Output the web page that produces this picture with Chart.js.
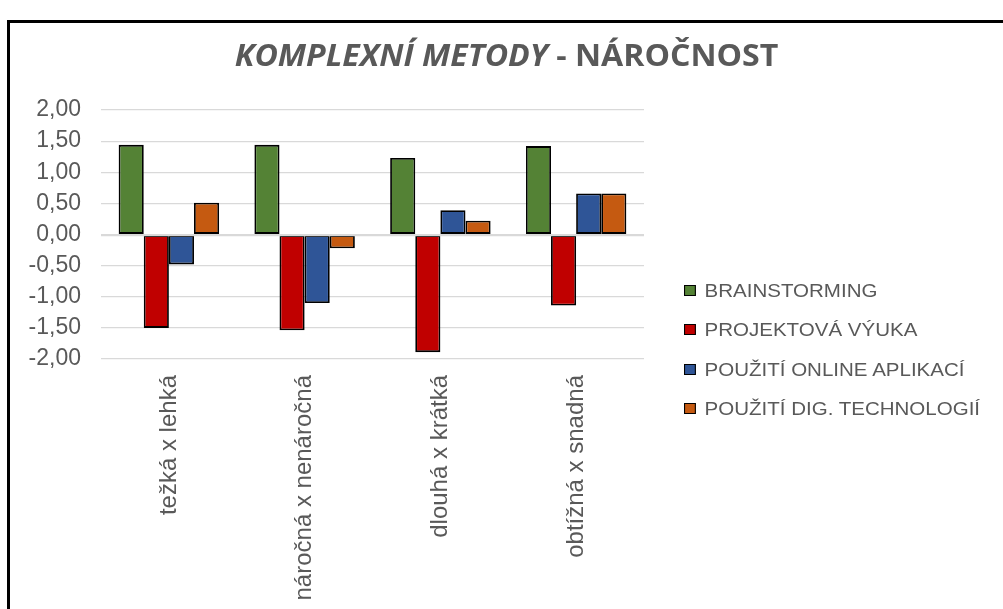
<!DOCTYPE html>
<html>
<head>
<meta charset="utf-8">
<script src="https://cdn.jsdelivr.net/npm/chart.js@4.4.1/dist/chart.umd.min.js"></script>
<style>
  html, body { margin: 0; padding: 0; background: #ffffff; }
  body { width: 1003px; height: 609px; position: relative; overflow: hidden; }
  #frame { position: absolute; left: 7px; top: 20px; width: 1100px; height: 700px; border: 3px solid #000; box-sizing: border-box; pointer-events: none; }
  #wrap { position: absolute; left: 0; top: 0; width: 1003px; height: 609px; }
  #title { position: absolute; left: 0; width: 1013px; top: 40px; text-align: center; font-family: 'Open Sans', sans-serif; font-weight: 700; font-size: 30px; line-height: 30px; color: #595959; white-space: nowrap; transform: scaleX(1.07); transform-origin: 506px 0; }
  #title i { font-style: italic; }
  #legend { position: absolute; left: 684px; top: 281px; font-family: 'Liberation Sans', Arial, sans-serif; font-size: 19px; color: #595959; transform: scaleX(1.08); transform-origin: 0 0; }
  .row { display: flex; align-items: center; height: 19px; line-height: 19px; margin-bottom: 20.3px; white-space: nowrap; }
  .sw { width: 11px; height: 11px; border: 1.5px solid #000; box-sizing: border-box; margin-right: 8px; flex: none; }
</style>
</head>
<body>
<div id="wrap"><canvas id="c"></canvas></div>
<div id="title"><i>KOMPLEXNÍ METODY</i> - NÁROČNOST</div>
<div id="legend"></div>
<div id="frame"></div>
<script>
const categories = ['težká x lehká', 'náročná x nenáročná', 'dlouhá x krátká', 'obtížná x snadná'];
const seriesNames = ['BRAINSTORMING', 'PROJEKTOVÁ VÝUKA', 'POUŽITÍ ONLINE APLIKACÍ', 'POUŽITÍ DIG. TECHNOLOGIÍ'];
const brainstorming = [1.44, 1.44, 1.23, 1.42];
const projektovaVyuka = [-1.50, -1.54, -1.89, -1.14];
const onlineAplikace = [-0.48, -1.10, 0.39, 0.66];
const digTechnologie = [0.51, -0.22, 0.22, 0.66];
const seriesColors = ['#548235', '#c00000', '#2f5597', '#c55a11'];
const yMin = -2, yMax = 2, yStep = 0.5;
const yTickLabels = ['-2,00', '-1,50', '-1,00', '-0,50', '0,00', '0,50', '1,00', '1,50', '2,00'];

const seriesData = [brainstorming, projektovaVyuka, onlineAplikace, digTechnologie];

Chart.defaults.font.family = "'Liberation Sans', Arial, sans-serif";
Chart.defaults.color = '#595959';

const zeroLine = {
  id: 'zeroLine',
  afterDatasetsDraw(chart) {
    const { ctx, chartArea, scales } = chart;
    const y = Math.round(scales.y.getPixelForValue(0)) + 0.5;
    ctx.save();
    ctx.strokeStyle = '#d9d9d9';
    ctx.lineWidth = 1.5;
    ctx.beginPath();
    ctx.moveTo(chartArea.left, y);
    ctx.lineTo(chartArea.right, y);
    ctx.stroke();
    ctx.restore();
  }
};

new Chart(document.getElementById('c'), {
  type: 'bar',
  data: {
    labels: categories,
    datasets: seriesNames.map((name, i) => ({
      label: name,
      data: seriesData[i],
      backgroundColor: seriesColors[i],
      borderColor: '#000000',
      borderWidth: 1.8,
      borderSkipped: false,
      categoryPercentage: 0.74,
      barPercentage: 1.0
    }))
  },
  options: {
    responsive: true,
    maintainAspectRatio: false,
    animation: false,
    layout: { padding: { left: 0, top: 110, right: 359, bottom: 0 } },
    plugins: {
      legend: { display: false },
      title: { display: false },
      tooltip: { enabled: false }
    },
    scales: {
      x: {
        grid: { display: false, drawTicks: false },
        border: { display: false },
        ticks: {
          minRotation: 90, maxRotation: 90, autoSkip: false,
          padding: 16,
          font: { size: 24 }, color: '#595959'
        },
        afterFit(scale) { scale.height = 250; }
      },
      y: {
        min: yMin, max: yMax,
        grid: { color: '#d9d9d9', lineWidth: 1.2, drawTicks: false },
        border: { display: false },
        ticks: {
          stepSize: yStep,
          padding: 20,
          font: { size: 23 }, color: '#595959',
          callback: (v) => yTickLabels[Math.round((v - yMin) / yStep)]
        },
        afterFit(scale) { scale.width = 101; }
      }
    }
  },
  plugins: [zeroLine]
});

const legendEl = document.getElementById('legend');
seriesNames.forEach((name, i) => {
  const row = document.createElement('div');
  row.className = 'row';
  const sw = document.createElement('span');
  sw.className = 'sw';
  sw.style.background = seriesColors[i];
  const t = document.createElement('span');
  t.textContent = name;
  row.appendChild(sw);
  row.appendChild(t);
  legendEl.appendChild(row);
});
</script>
</body>
</html>
